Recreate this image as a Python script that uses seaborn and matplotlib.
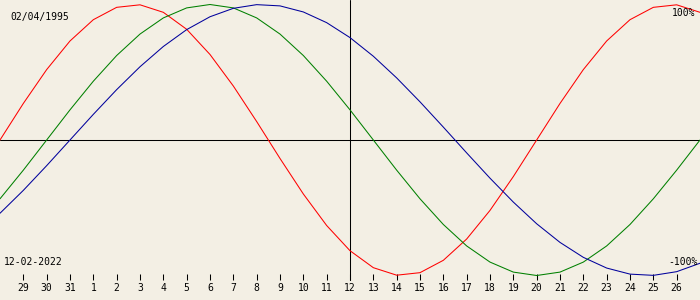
import matplotlib
matplotlib.use("Agg")
import matplotlib.pyplot as plt
import seaborn as sns
import pandas as pd

birth_label = "02/04/1995"
target_label = "12-02-2022"

# days shown: Jan 28 .. Feb 27 (index 0..30); target day = index 15
day_labels = ["28", "29", "30", "31", "1", "2", "3", "4", "5", "6", "7", "8", "9", "10",
              "11", "12", "13", "14", "15", "16", "17", "18", "19", "20", "21", "22",
              "23", "24", "25", "26", "27"]
tick_labels = day_labels[1:-1]

# biorhythm values in percent, one per day
physical = [0.0, 26.98, 51.96, 73.08, 88.79, 97.91, 99.77, 94.23, 81.70, 63.11, 39.84,
            13.62, -13.62, -39.84, -63.11, -81.70, -94.23, -99.77, -97.91, -88.79,
            -73.08, -51.96, -26.98, 0.0, 26.98, 51.96, 73.08, 88.79, 97.91, 99.77, 94.23]
emotional = [-43.39, -22.25, 0.0, 22.25, 43.39, 62.35, 78.18, 90.10, 97.49, 100.0, 97.49,
             90.10, 78.18, 62.35, 43.39, 22.25, 0.0, -22.25, -43.39, -62.35, -78.18,
             -90.10, -97.49, -100.0, -97.49, -90.10, -78.18, -62.35, -43.39, -22.25, 0.0]
intellectual = [-54.06, -37.17, -18.93, 0.0, 18.93, 37.17, 54.06, 69.01, 81.46, 90.96,
                97.18, 99.89, 98.98, 94.50, 86.60, 75.57, 61.82, 45.82, 28.17, 9.51,
                -9.51, -28.17, -45.82, -61.82, -75.57, -86.60, -94.50, -98.98, -99.89,
                -97.18, -90.96]

bg = "#F3EFE4"
sns.set_theme(style="white")
plt.rcParams["font.family"] = ["DejaVu Sans Mono", "DejaVu Sans"]

W, H = 700, 300
fig = plt.figure(figsize=(7, 3), dpi=100, facecolor=bg)
ax_bottom_px = 274
ax = fig.add_axes([0, (H - ax_bottom_px) / H, 1, ax_bottom_px / H])
ax.set_facecolor(bg)

df = pd.DataFrame({"idx": list(range(len(day_labels))),
                   "physical": physical, "emotional": emotional,
                   "intellectual": intellectual})

zero_px, amp_px = 140.0, 135.5
ax.set_ylim((zero_px - ax_bottom_px) / amp_px * 100, zero_px / amp_px * 100)
ax.set_xlim(0, len(day_labels) - 1)

ax.axhline(0, color="black", lw=0.75, zorder=1)
ax.axvline(15, ymin=-6 / ax_bottom_px, ymax=1, color="black", lw=0.75, zorder=1,
           clip_on=False)

for col, c in [("physical", "#FF0000"), ("emotional", "#008000"), ("intellectual", "#00009C")]:
    sns.lineplot(data=df, x="idx", y=col, ax=ax, color=c, lw=0.75, sort=False,
                 estimator=None, zorder=2, clip_on=False)

for s in ax.spines.values():
    s.set_visible(False)
ax.set_xlabel("")
ax.set_ylabel("")
ax.set_yticks([])
ax.set_xticks(range(1, len(day_labels) - 1))
ax.set_xticklabels(tick_labels)
ax.tick_params(axis="x", direction="out", length=4.3, width=0.75, color="black",
               pad=2.5, labelsize=7, labelcolor="black", bottom=True)

fig.text(10 / W, 1 - 17 / H, birth_label, fontsize=7, va="center", ha="left", color="black")
fig.text(4 / W, 1 - 262 / H, target_label, fontsize=7, va="center", ha="left", color="black")
fig.text(695 / W, 1 - 13 / H, "100%", fontsize=7, va="center", ha="right", color="black")
fig.text(698 / W, 1 - 262 / H, "-100%", fontsize=7, va="center", ha="right", color="black")

fig.savefig("out.png", dpi=100, facecolor=bg)
